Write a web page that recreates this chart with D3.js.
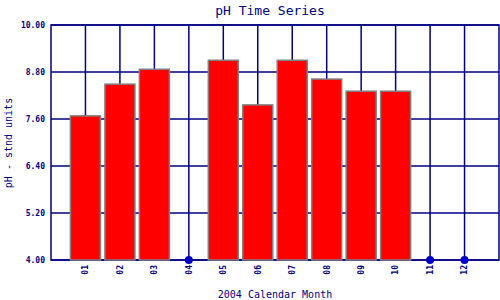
<!DOCTYPE html>
<html>
<head>
<meta charset="utf-8">
<script src="https://cdn.jsdelivr.net/npm/d3@7"></script>
<style>
  html, body { margin: 0; padding: 0; background: #fff; }
  svg { display: block; }
  text { font-family: "DejaVu Sans Mono", monospace; fill: #000080; }
</style>
</head>
<body>
<svg id="chart" width="500" height="300"></svg>
<script>
const months = ["01","02","03","04","05","06","07","08","09","10","11","12"];
const phValues = [7.68, 8.49, 8.87, null, 9.10, 7.96, 9.10, 8.62, 8.31, 8.31, null, null];
const yTicks = [4.00, 5.20, 6.40, 7.60, 8.80, 10.00];
const title = "pH Time Series";
const xTitle = "2004 Calendar Month";
const yTitle = "pH - stnd units";

const svg = d3.select("#chart");
const pLeft = 51, pRight = 499, pTop = 25, pBottom = 260;
const navy = "#000080";

const x = d3.scaleLinear().domain([0, 13]).range([pLeft, pRight]);
const y = d3.scaleLinear().domain([4, 10]).range([pBottom, pTop]);

// horizontal grid
svg.append("g").selectAll("line").data(yTicks).join("line")
  .attr("x1", pLeft).attr("x2", pRight)
  .attr("y1", d => y(d)).attr("y2", d => y(d))
  .attr("stroke", navy).attr("stroke-width", 1.5);

// vertical grid
svg.append("g").selectAll("line").data(months).join("line")
  .attr("x1", (d, i) => x(i + 1)).attr("x2", (d, i) => x(i + 1))
  .attr("y1", pTop).attr("y2", pBottom)
  .attr("stroke", navy).attr("stroke-width", 1.5);

// border
svg.append("rect").attr("x", pLeft).attr("y", pTop)
  .attr("width", pRight - pLeft).attr("height", pBottom - pTop)
  .attr("fill", "none").attr("stroke", navy).attr("stroke-width", 1.5);

// bars
const data = months.map((m, i) => ({ m, i, v: phValues[i] }));
svg.append("g").selectAll("rect").data(data.filter(d => d.v !== null)).join("rect")
  .attr("x", d => x(d.i + 1) - 15)
  .attr("width", 30)
  .attr("y", d => y(d.v))
  .attr("height", d => y(4) - y(d.v))
  .attr("fill", "#ff0000")
  .attr("stroke", "#808080")
  .attr("stroke-width", 1.5);

// missing markers
svg.append("g").selectAll("circle").data(data.filter(d => d.v === null)).join("circle")
  .attr("cx", d => x(d.i + 1))
  .attr("cy", y(4))
  .attr("r", 4)
  .attr("fill", "#0000c8");

// y tick labels
svg.append("g").selectAll("text").data(yTicks).join("text")
  .attr("x", 45).attr("y", d => y(d))
  .attr("dy", "0.35em")
  .attr("text-anchor", "end")
  .attr("font-size", 8).attr("font-weight", "bold")
  .text(d => d.toFixed(2));

// x tick labels
svg.append("g").selectAll("text").data(months).join("text")
  .attr("transform", (d, i) => `translate(${x(i + 1)},265) rotate(-90)`)
  .attr("dy", "0.35em")
  .attr("text-anchor", "end")
  .attr("font-size", 8).attr("font-weight", "bold")
  .text(d => d);

// titles
svg.append("text").attr("x", 270).attr("y", 15)
  .attr("text-anchor", "middle").attr("font-size", 13).text(title);
svg.append("text").attr("x", 275).attr("y", 298)
  .attr("text-anchor", "middle").attr("font-size", 10).text(xTitle);
svg.append("text").attr("transform", "translate(12,143) rotate(-90)")
  .attr("text-anchor", "middle").attr("font-size", 10).text(yTitle);
</script>
</body>
</html>
